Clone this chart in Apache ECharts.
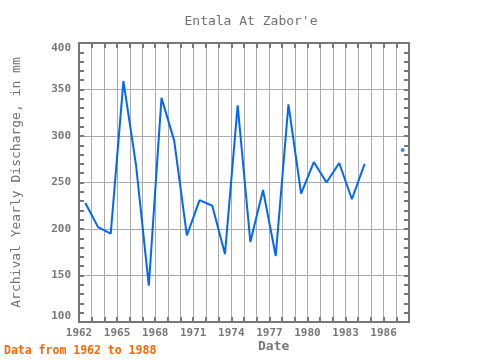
<!DOCTYPE html>
<html><head><meta charset="utf-8">
<script src="https://cdn.jsdelivr.net/npm/echarts@6/dist/echarts.min.js"></script>
<style>html,body{margin:0;padding:0;background:#fff}#c{width:480px;height:360px}</style>
</head><body><div id="c"></div>
<script>
var years = [1962,1963,1964,1965,1966,1967,1968,1969,1970,1971,1972,1973,1974,1975,1976,1977,1978,1979,1980,1981,1982,1983,1984,1985,1986,1987];
var discharge = [228,202,195,359,268,139,341,295,193,231,225,173,333,186,242,171,334,238,272,250,271,232,270,null,null,285];
var xTicks = [1962,1965,1968,1971,1974,1977,1980,1983,1986];
var titleText = "Entala At Zabor'e";
var yName = "Archival Yearly Discharge, in mm";
var xName = "Date";
var note = "Data from 1962 to 1988";

var lineData = years.map(function(y,i){ return [y+0.5, discharge[i]==null?'-':discharge[i]]; });
var isolated = [];
years.forEach(function(y,i){
  var v = discharge[i];
  if (v==null) return;
  var p = i>0?discharge[i-1]:null, n = i<years.length-1?discharge[i+1]:null;
  if (p==null && n==null) isolated.push([y+0.5, v]);
});
var font = "DejaVu Sans Mono";
var axisCol = '#777';
var chart = echarts.init(document.getElementById('c'), null, {renderer:'canvas'});
chart.setOption({
  animation:false,
  title:{text:titleText,left:246,top:10,textAlign:'center',textStyle:{fontFamily:font,fontSize:13,fontWeight:'normal',color:'#707070'}},
  grid:{left:79,right:71,top:43,bottom:38},
  xAxis:[{type:'value',min:1962,max:1988,interval:1,
    axisLine:{lineStyle:{color:axisCol,width:2}},
    axisTick:{inside:true,length:5,lineStyle:{color:axisCol,width:2}},
    axisLabel:{margin:6,fontFamily:font,fontSize:11,fontWeight:'bold',color:'#777',showMaxLabel:false,
      formatter:function(v){return xTicks.indexOf(v)>=0?String(v):'';}},
    splitLine:{show:true,lineStyle:{color:'#aaa',width:1}}},
   {type:'value',position:'top',min:1962,max:1988,interval:1,
    axisLine:{show:true,lineStyle:{color:axisCol,width:2}},
    axisTick:{inside:true,length:5,lineStyle:{color:axisCol,width:2}},
    axisLabel:{show:false},splitLine:{show:false}}],
  yAxis:[{type:'value',min:100,max:400,interval:50,
    axisLine:{show:true,lineStyle:{color:axisCol,width:2}},
    axisTick:{inside:true,length:5,lineStyle:{color:axisCol,width:2}},
    minorTick:{show:true,splitNumber:5,length:5,lineStyle:{color:axisCol,width:2}},
    axisLabel:{margin:8,fontFamily:font,fontSize:11,fontWeight:'bold',color:'#777',
      verticalAlignMinLabel:'bottom',verticalAlignMaxLabel:'top'},
    splitLine:{show:true,lineStyle:{color:'#aaa',width:1}},
    name:yName,nameLocation:'middle',nameGap:56,nameRotate:90,
    nameTextStyle:{fontFamily:font,fontSize:13,color:'#707070'}},
   {type:'value',position:'right',min:100,max:400,interval:50,
    axisLine:{show:true,lineStyle:{color:axisCol,width:2}},
    axisTick:{inside:true,length:5,lineStyle:{color:axisCol,width:2}},
    minorTick:{show:true,splitNumber:5,length:5,lineStyle:{color:axisCol,width:2}},
    axisLabel:{show:false},splitLine:{show:false}}],
  graphic:[
    {type:'text',left:258,top:340,style:{text:xName,font:'bold 13px "DejaVu Sans Mono"',fill:'#777'}},
    {type:'text',left:4,top:345,style:{text:note,font:'bold 11.5px "DejaVu Sans Mono"',fill:'#ff6600'}}
  ],
  series:[
    {type:'line',data:lineData,showSymbol:false,connectNulls:false,lineStyle:{color:'#0066ff',width:2},itemStyle:{color:'#0066ff'}},
    {type:'scatter',data:isolated,symbolSize:4,itemStyle:{color:'#0066ff'}}
  ]
});
</script></body></html>
